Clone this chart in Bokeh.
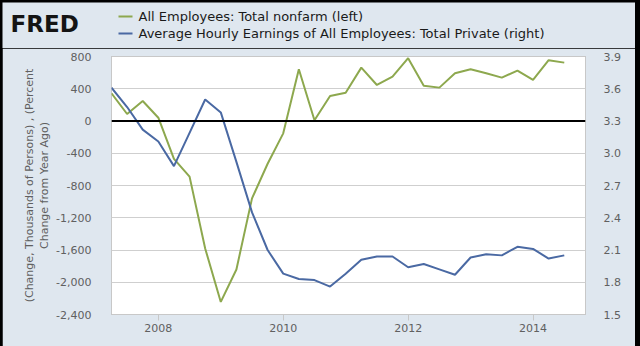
from bokeh.plotting import figure
from bokeh.models import (Range1d, LinearAxis, FixedTicker, NumeralTickFormatter,
                          Span, Spacer)
from bokeh.core.properties import value
from bokeh.layouts import row, column
from bokeh.embed import file_html
from bokeh.resources import INLINE

# ---- data (quarterly) ----
quarter_dates = ["2007-04-01", "2007-07-01", "2007-10-01",
                 "2008-01-01", "2008-04-01", "2008-07-01", "2008-10-01",
                 "2009-01-01", "2009-04-01", "2009-07-01", "2009-10-01",
                 "2010-01-01", "2010-04-01", "2010-07-01", "2010-10-01",
                 "2011-01-01", "2011-04-01", "2011-07-01", "2011-10-01",
                 "2012-01-01", "2012-04-01", "2012-07-01", "2012-10-01",
                 "2013-01-01", "2013-04-01", "2013-07-01", "2013-10-01",
                 "2014-01-01", "2014-04-01", "2014-07-01"]
nonfarm_change = [344, 87, 248, 41, -470, -690, -1581, -2244, -1842, -960,
                  -530, -153, 642, 10, 310, 351, 662, 447, 550, 779,
                  438, 414, 592, 642, 592, 538, 625, 509, 754, 724]
earnings_pct = [3.61, 3.43, 3.22, 3.11, 2.88, 3.19, 3.50, 3.38, 2.92, 2.45,
                2.10, 1.88, 1.83, 1.82, 1.76, 1.88, 2.01, 2.04, 2.04, 1.94,
                1.97, 1.92, 1.87, 2.03, 2.06, 2.05, 2.13, 2.11, 2.02, 2.05]
left_ticks = [800, 400, 0, -400, -800, -1200, -1600, -2000, -2400]
right_ticks = [3.9, 3.6, 3.3, 3.0, 2.7, 2.4, 2.1, 1.8, 1.5]
year_ticks = [2008, 2010, 2012, 2014]
series_names = ["All Employees: Total nonfarm (left)",
                "Average Hourly Earnings of All Employees: Total Private (right)"]
y_label = "(Change, Thousands of Persons) , (Percent\nChange from Year Ago)"

def to_decimal_year(s):
    y, m, d = s.split("-")
    return int(y) + (int(m) - 1) / 12.0

xs = [to_decimal_year(d) for d in quarter_dates]

GREEN = "#8da84e"
BLUE = "#4a69a3"
BG = "#dfe7ef"
FONT = "DejaVu Sans"
W = 633

# ---- header (logo + legend) ----
HEADER_H = 46
hdr = figure(width=W, height=HEADER_H, output_backend="svg", toolbar_location=None,
             x_range=Range1d(0, W), y_range=Range1d(HEADER_H, 0),
             min_border=0, x_axis_type=None, y_axis_type=None)
hdr.background_fill_color = BG
hdr.border_fill_color = BG
hdr.outline_line_color = None
hdr.grid.grid_line_color = None
hdr.text(x=[8], y=[21], text=["FRED"], text_font=value(FONT), text_font_style="bold",
         text_font_size="23px", text_color="#141414", text_baseline="middle")
hdr.segment(x0=[116, 116], y0=[14, 31], x1=[130, 130], y1=[14, 31],
            line_color=[GREEN, BLUE], line_width=2)
hdr.text(x=[136, 136], y=[14, 31], text=series_names, text_font=value(FONT),
         text_font_size="13px", text_color="#1a1a1a", text_baseline="middle")

# ---- main chart ----
p = figure(width=W, height=298, output_backend="svg", toolbar_location=None,
           x_range=Range1d(2007.25, 2014.84), y_range=Range1d(-2400, 800),
           min_border_left=109, min_border_right=50, min_border_top=8,
           min_border_bottom=32)
p.border_fill_color = BG
p.background_fill_color = "white"
p.outline_line_color = "#c8c8c8"
p.extra_y_ranges = {"right": Range1d(1.5, 3.9)}

p.line(xs, nonfarm_change, line_color=GREEN, line_width=2)
p.line(xs, earnings_pct, line_color=BLUE, line_width=2, y_range_name="right")

p.add_layout(Span(location=0, dimension="width", line_color="black", line_width=2))

p.yaxis.ticker = FixedTicker(ticks=left_ticks)
p.yaxis.formatter = NumeralTickFormatter(format="0,0")
ra = LinearAxis(y_range_name="right", ticker=FixedTicker(ticks=right_ticks),
                formatter=NumeralTickFormatter(format="0.0"))
p.add_layout(ra, "right")
p.xaxis.ticker = FixedTicker(ticks=year_ticks)
p.xaxis.major_label_overrides = {y: str(y) for y in year_ticks}

for ax in [p.yaxis[0], ra]:
    ax.axis_line_color = None
    ax.major_tick_line_color = None
    ax.minor_tick_line_color = None
    ax.major_label_text_font = FONT
    ax.major_label_text_font_size = "11px"
    ax.major_label_text_color = "#606060"
p.yaxis[0].major_label_standoff = 14
ra.major_label_standoff = 12

ly = p.yaxis[0]
ly.axis_label = y_label
ly.axis_label_text_font = FONT
ly.axis_label_text_font_size = "11px"
ly.axis_label_text_font_style = "normal"
ly.axis_label_text_color = "#606060"
ly.axis_label_text_line_height = 1.15
ly.axis_label_standoff = 2

xa = p.xaxis[0]
xa.axis_line_color = None
xa.minor_tick_line_color = None
xa.major_tick_line_color = "#c8c8c8"
xa.major_tick_in = 0
xa.major_tick_out = 6
xa.major_label_standoff = 3
xa.major_label_text_font = FONT
xa.major_label_text_font_size = "11px"
xa.major_label_text_color = "#606060"

p.xgrid.grid_line_color = None
p.ygrid.grid_line_color = "#cfcfcf"
p.ygrid.ticker = FixedTicker(ticks=left_ticks)

left_bar = Spacer(width=2, height=346, styles={"background-color": "black"})
right_bar = Spacer(width=5, height=346, styles={"background-color": "black"})
top_bar = Spacer(width=W, height=2, styles={"background-color": "black"})
layout = row(left_bar, column(top_bar, row(hdr), row(p), spacing=0), right_bar,
             spacing=0, styles={"background-color": "black"})

open("out.html", "w").write(file_html(layout, INLINE))
